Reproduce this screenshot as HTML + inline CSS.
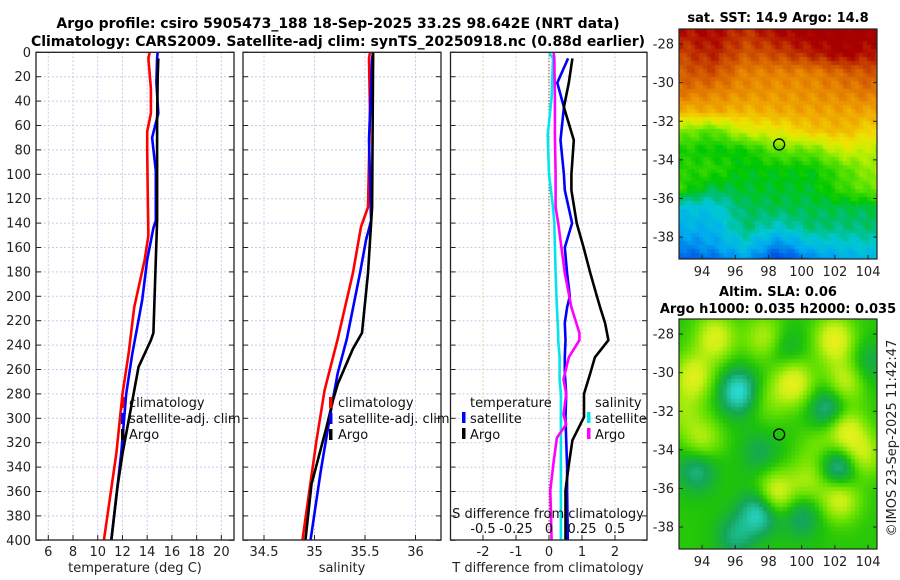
<!DOCTYPE html>
<html><head><meta charset="utf-8">
<style>
html,body{margin:0;padding:0;background:#fff;}
#wrap{position:relative;width:900px;height:580px;overflow:hidden;font-family:"DejaVu Sans","Liberation Sans",sans-serif;}
svg text{font-family:"DejaVu Sans","Liberation Sans",sans-serif;}
canvas{position:absolute;}
</style></head>
<body>
<div id="wrap">
<svg id="main" width="900" height="580" style="position:absolute;left:0;top:0"></svg>
<canvas id="sst" width="198" height="230" style="left:679px;top:29px"></canvas>
<canvas id="sla" width="198" height="230" style="left:679px;top:319px"></canvas>
<svg id="over" width="900" height="580" style="position:absolute;left:0;top:0"></svg>
</div>
<script>
// ---- profile data ----
const depthRed = [0,5,30,50,65,80,120,150,170,209,247,280,329,400];
const tempRed  = [14.2,14.1,14.3,14.3,14.0,14.0,14.05,14.1,13.8,12.95,12.5,12.0,11.5,10.5];
const depthBlue = [0,5,25,50,70,97,138,144,170,203,225,247,280,329,400];
const tempBlue  = [14.85,14.8,14.75,14.9,14.4,14.7,14.7,14.5,14.0,13.6,13.2,12.8,12.3,11.9,11.1];
const depthBlack = [5,20,56,138,230,236,258,280,302,329,356,400];
const tempBlack  = [14.9,14.85,14.8,14.8,14.5,14.3,13.3,12.9,12.5,12.0,11.6,11.1];

const salDepthRed = [0,5,50,127,143,181,235,277,318,400];
const salRed      = [35.55,35.54,35.55,35.53,35.46,35.38,35.23,35.1,35.02,34.88];
const salDepthBlue = [0,5,72,138,154,181,235,263,290,344,400];
const salBlue      = [35.58,35.57,35.54,35.56,35.51,35.45,35.32,35.23,35.17,35.06,34.96];
const salDepthBlack = [0,5,127,181,230,243,272,286,307,354,400];
const salBlack      = [35.58,35.58,35.57,35.53,35.47,35.38,35.23,35.18,35.12,34.97,34.91];

const dDepthT = [5,25,45,72,100,113,140,160,181,200,209,222,236,250,263,280,299,318,340,359,400];
const dTsat   = [0.58,0.25,0.45,0.35,0.45,0.48,0.7,0.48,0.55,0.63,0.55,0.48,0.5,0.48,0.48,0.52,0.5,0.52,0.55,0.55,0.57];
const dTargo  = [0.71,0.6,0.45,0.75,0.68,0.68,0.84,1.05,1.25,1.45,1.55,1.7,1.8,1.39,1.25,1.06,1.06,0.71,0.59,0.5,0.5];
const dDepthS = [0,5,37,68,100,127,140,181,209,230,236,250,268,280,297,305,316,336,359,380,400];
const dSsat   = [0.0,0.03,0.02,-0.01,0.0,0.03,0.04,0.05,0.06,0.07,0.07,0.08,0.08,0.09,0.09,0.09,0.09,0.09,0.09,0.09,0.09];
const dSargo  = [0.035,0.04,0.045,0.045,0.05,0.05,0.07,0.12,0.17,0.23,0.23,0.15,0.11,0.13,0.11,0.13,0.06,0.035,0.01,0.015,0.02];

const depthTicks = [0,20,40,60,80,100,120,140,160,180,200,220,240,260,280,300,320,340,360,380,400];
const tempTicks = [6,8,10,12,14,16,18,20];
const salTicks = [34.5,35,35.5,36];
const salTickLabels = ["34.5","35","35.5","36"];
const dTTicks = [-2,-1,0,1,2];
const dSTicks = [-0.5,-0.25,0,0.25,0.5];
const dSTickLabels = ["-0.5","-0.25","0","0.25","0.5"];

// ---- map data ----
const sstLats = [-27.3,-28.5,-29.5,-30.5,-31.5,-32.5,-33.5,-34.5,-35.5,-36.5,-37.5,-38.5,-39.2];
const sstLons = [92.6,94.6,96.6,98.6,100.6,102.6,104.6];
const sstGrid = [
 [0.93,0.95,0.9,0.95,0.97,0.97,0.97],
 [0.88,0.92,0.86,0.88,0.92,0.96,0.92],
 [0.85,0.87,0.8,0.8,0.8,0.84,0.86],
 [0.82,0.8,0.78,0.77,0.78,0.8,0.82],
 [0.72,0.74,0.72,0.74,0.75,0.75,0.75],
 [0.55,0.5,0.62,0.64,0.7,0.72,0.66],
 [0.45,0.42,0.43,0.52,0.52,0.62,0.58],
 [0.45,0.47,0.41,0.42,0.42,0.5,0.58],
 [0.47,0.38,0.4,0.4,0.4,0.48,0.54],
 [0.28,0.28,0.37,0.38,0.38,0.38,0.38],
 [0.24,0.24,0.36,0.3,0.36,0.35,0.36],
 [0.16,0.2,0.28,0.16,0.26,0.28,0.3],
 [0.1,0.12,0.2,0.05,0.16,0.22,0.26]];
const slaLons = [93.5,94.8,97.8,99.5,102,102.6,102.6,103.6,94,98.4,102.3,100.4,96.2,101.7,102.3,97.5,93.7,100,96,97.5,99,104,92.8,101,98];
const slaLats = [-30.2,-28.2,-28.2,-30.5,-28.3,-30.5,-33,-34.3,-33.5,-36.3,-36.5,-35.6,-31,-31.9,-34.9,-37.2,-35,-37.4,-38.5,-34.2,-28.8,-29.5,-32,-33.8,-31.5];
const slaAmps = [0.4,0.4,0.3,0.45,0.45,0.35,0.45,0.35,0.3,0.45,0.4,0.25,-0.45,-0.38,-0.45,-0.45,-0.3,-0.25,-0.25,-0.18,-0.18,-0.18,0.2,0.15,0.15];
const mapLonTicks = [94,96,98,100,102,104];
const mapLatTicks = [-28,-30,-32,-34,-36,-38];
const argoLon = 98.642, argoLat = -33.2;

const NS="http://www.w3.org/2000/svg";
const svg=document.getElementById('main');
function mk(tag,attrs,parent,text){const e=document.createElementNS(NS,tag);for(const k in attrs)e.setAttribute(k,attrs[k]);if(text!==undefined)e.textContent=text;(parent||svg).appendChild(e);return e;}

const Y0=52.3, YS=1.22;
const yD = d => Y0 + d*YS;
const xT = t => 48.3 + (t-6)*12.36;
const xS = s => 314.5 + (s-35)*101;
const xDT = v => 549 + v*33;
const xDS = v => 549 + v*132;
const panels=[{x0:36,x1:234,name:'temperature-panel'},{x0:243,x1:441,name:'salinity-panel'},{x0:450.5,x1:647,name:'difference-panel'}];

panels.forEach((p,i)=>{
  const g=mk('g',{});
  
  
  depthTicks.forEach(d=>{mk('line',{x1:p.x0,x2:p.x1,y1:yD(d),y2:yD(d),stroke:'#c4cbee','stroke-width':1,'stroke-dasharray':'2,2'},g);});
  let xs=[];
  if(i==0) xs=tempTicks.map(xT);
  if(i==1) xs=salTicks.map(xS);
  if(i==2) xs=dTTicks.map(xDT);
  xs.forEach(x=>mk('line',{x1:x,x2:x,y1:Y0,y2:540,stroke:i==2?'#e8c8b0':'#c4cbee','stroke-width':1,'stroke-dasharray':'2,2'},g));
});
mk('line',{x1:xDT(0),x2:xDT(0),y1:Y0,y2:540,stroke:'#333','stroke-width':1,'stroke-dasharray':'1,2'});

function line(xs,ds,fx,color,name){
  const pts=xs.map((v,i)=>fx(v).toFixed(1)+','+yD(ds[i]).toFixed(1)).join(' ');
  const e=mk('polyline',{points:pts,fill:'none',stroke:color,'stroke-width':2.6,'stroke-linejoin':'round'});
  
  
}
line(tempRed,depthRed,xT,'#ff0000','temp-climatology-line');
line(tempBlue,depthBlue,xT,'#0000ff','temp-satellite-line');
line(tempBlack,depthBlack,xT,'#000000','temp-argo-line');
line(salRed,salDepthRed,xS,'#ff0000','sal-climatology-line');
line(salBlue,salDepthBlue,xS,'#0000ff','sal-satellite-line');
line(salBlack,salDepthBlack,xS,'#000000','sal-argo-line');
line(dSsat,dDepthS,xDS,'#00e5ee','s-diff-satellite-line');
line(dTsat,dDepthT,xDT,'#0000ff','t-diff-satellite-line');
line(dSargo,dDepthS,xDS,'#ff00ff','s-diff-argo-line');
line(dTargo,dDepthT,xDT,'#000000','t-diff-argo-line');

panels.forEach((p,i)=>{
  const r=mk('rect',{x:p.x0,y:Y0,width:p.x1-p.x0,height:540-Y0,fill:'none',stroke:'#222','stroke-width':1.3});
  
  
  depthTicks.forEach(d=>{
    mk('line',{x1:p.x0,x2:p.x0+5,y1:yD(d),y2:yD(d),stroke:'#222'});
    mk('line',{x1:p.x1,x2:p.x1-5,y1:yD(d),y2:yD(d),stroke:'#222'});
  });
});
depthTicks.forEach(d=>{
  const t=mk('text',{x:31,y:yD(d)+4.5,'text-anchor':'end','font-size':13,fill:'#222'},svg,String(d));
  
  
});
tempTicks.forEach(v=>{
  mk('line',{x1:xT(v),x2:xT(v),y1:540,y2:535,stroke:'#222'});
  const t=mk('text',{x:xT(v),y:556,'text-anchor':'middle','font-size':13,fill:'#222'},svg,String(v));
  
  
});
salTicks.forEach((v,i)=>{
  mk('line',{x1:xS(v),x2:xS(v),y1:540,y2:535,stroke:'#222'});
  const t=mk('text',{x:xS(v),y:556,'text-anchor':'middle','font-size':13,fill:'#222'},svg,salTickLabels[i]);
  
  
});
dTTicks.forEach(v=>{
  mk('line',{x1:xDT(v),x2:xDT(v),y1:540,y2:535,stroke:'#222'});
  const t=mk('text',{x:xDT(v),y:556,'text-anchor':'middle','font-size':13,fill:'#222'},svg,String(v));
  
  
});
dSTicks.forEach((v,i)=>{
  const t=mk('text',{x:xDS(v),y:533,'text-anchor':'middle','font-size':13,fill:'#111'},svg,dSTickLabels[i]);
  
  
});
</script>
<script>
(function(){
const svg=document.getElementById('main');
function T(x,y,s,opts,name){const e=document.createElementNS("http://www.w3.org/2000/svg",'text');e.setAttribute('x',x);e.setAttribute('y',y);for(const k in opts)e.setAttribute(k,opts[k]);e.textContent=s;svg.appendChild(e);return e;}
function R(x,y,w,h,c,name){const e=document.createElementNS("http://www.w3.org/2000/svg",'rect');e.setAttribute('x',x);e.setAttribute('y',y);e.setAttribute('width',w);e.setAttribute('height',h);e.setAttribute('fill',c);svg.appendChild(e);}
T(338,28,'Argo profile: csiro 5905473_188 18-Sep-2025 33.2S 98.642E (NRT data)',{'text-anchor':'middle','font-size':14,'font-weight':'bold'},'title-line-1');
T(338,46,'Climatology: CARS2009. Satellite-adj clim: synTS_20250918.nc (0.88d earlier)',{'text-anchor':'middle','font-size':14,'font-weight':'bold'},'title-line-2');
T(135,572,'temperature (deg C)',{'text-anchor':'middle','font-size':13,fill:'#222'},'temp-x-axis-title');
T(342,572,'salinity',{'text-anchor':'middle','font-size':13,fill:'#222'},'sal-x-axis-title');
T(548,572,'T difference from climatology',{'text-anchor':'middle','font-size':13,fill:'#222'},'t-diff-x-axis-title');
T(548,518,'S difference from climatology',{'text-anchor':'middle','font-size':13,fill:'#111'},'s-diff-axis-title');
[[121,'#ff0000','climatology',0],[121,'#0000ff','satellite-adj. clim',16],[121,'#000','Argo',32]].forEach(a=>{R(a[0],397+a[3],3.5,11,a[1],'legend-marker');T(129,407+a[3],a[2],{'font-size':13,fill:'#111'},'legend-entry');});
[[329,'#ff0000','climatology',0],[329,'#0000ff','satellite-adj. clim',16],[329,'#000','Argo',32]].forEach(a=>{R(a[0],397+a[3],3.5,11,a[1],'legend-marker');T(338,407+a[3],a[2],{'font-size':13,fill:'#111'},'legend-entry');});
T(470,407,'temperature',{'font-size':13,fill:'#111'},'legend-title-temperature');
R(462,412,3.5,11,'#0000ff','legend-marker');T(470,423,'satellite',{'font-size':13,fill:'#111'},'legend-entry');
R(462,428,3.5,11,'#000','legend-marker');T(470,439,'Argo',{'font-size':13,fill:'#111'},'legend-entry');
T(595,407,'salinity',{'font-size':13,fill:'#111'},'legend-title-salinity');
R(587,412,3.5,11,'#00e5ee','legend-marker');T(595,423,'satellite',{'font-size':13,fill:'#111'},'legend-entry');
R(587,428,3.5,11,'#ff00ff','legend-marker');T(595,439,'Argo',{'font-size':13,fill:'#111'},'legend-entry');
T(778,22,'sat. SST: 14.9 Argo: 14.8',{'text-anchor':'middle','font-size':13,'font-weight':'bold'},'sst-map-title');
T(778,296,'Altim. SLA: 0.06',{'text-anchor':'middle','font-size':13,'font-weight':'bold'},'sla-map-title-1');
T(778,313,'Argo h1000: 0.035 h2000: 0.035',{'text-anchor':'middle','font-size':13,'font-weight':'bold'},'sla-map-title-2');
T(0,0,'©IMOS 23-Sep-2025 11:42:47',{'text-anchor':'middle','font-size':13,fill:'#222',transform:'translate(896,438) rotate(-90)'},'timestamp');
})();
</script>
<script>
const sstStops=[[0,[0,40,200]],[0.12,[0,100,230]],[0.22,[0,170,240]],[0.3,[0,200,210]],[0.36,[0,190,110]],[0.42,[0,200,0]],[0.52,[100,228,0]],[0.6,[200,240,0]],[0.66,[240,225,0]],[0.74,[240,170,0]],[0.8,[230,130,0]],[0.88,[200,70,0]],[0.95,[170,0,0]],[1,[160,0,0]]];
function cmap(stops,v){v=Math.max(0,Math.min(1,v));for(let k=0;k<stops.length-1;k++){const a=stops[k],b=stops[k+1];if(v<=b[0]){const f=(v-a[0])/(b[0]-a[0]);return a[1].map((x,m)=>Math.round(x+(b[1][m]-x)*f));}}return stops[stops.length-1][1];}
const lonMin=92.61, lonMax=104.54, latTop=-27.22, latBot=-39.14;
const mapPx=[16.6,19.3];
function drawMap(id,fn){
  const c=document.getElementById(id), ctx=c.getContext('2d');
  const cs=4;
  for(let py=0;py<230;py+=cs){for(let px=0;px<198;px+=cs){
    const lon=lonMin+(px+cs/2)/198*(lonMax-lonMin), lat=latTop-(py+cs/2)/230*(latTop-latBot);
    const col=fn(lon,lat);ctx.fillStyle='rgb('+col.join(',')+')';ctx.fillRect(px,py,cs,cs);}}
}
function interpSST(lon,lat){
  let i=0;while(i<sstLats.length-2&&lat<sstLats[i+1])i++;
  let fy=(sstLats[i]-lat)/(sstLats[i]-sstLats[i+1]);fy=Math.max(0,Math.min(1,fy));
  let j=Math.max(0,Math.min(sstLons.length-2,Math.floor((lon-sstLons[0])/2)));
  let fx=(lon-sstLons[j])/2;fx=Math.max(0,Math.min(1,fx));
  const a=sstGrid[i][j]*(1-fx)+sstGrid[i][j+1]*fx, b=sstGrid[i+1][j]*(1-fx)+sstGrid[i+1][j+1]*fx;
  return a*(1-fy)+b*fy + 0.025*Math.sin(lon*5.3+lat*3.1)*Math.cos(lat*4.7);
}
drawMap('sst',(lon,lat)=>cmap(sstStops,interpSST(lon,lat)));
const slaStops=[[0,[40,215,205]],[0.22,[20,165,90]],[0.4,[30,195,10]],[0.55,[100,225,0]],[0.75,[200,240,20]],[0.9,[240,240,30]],[1,[250,220,20]]];
drawMap('sla',(lon,lat)=>{let v=0.42;for(let k=0;k<slaLons.length;k++){const d2=(lon-slaLons[k])**2+(lat-slaLats[k])**2;v+=slaAmps[k]*Math.exp(-d2/1.4);}return cmap(slaStops,v);});

(function(){
const o=document.getElementById('over');const NS="http://www.w3.org/2000/svg";
function mk(t,a,s){const e=document.createElementNS(NS,t);for(const k in a)e.setAttribute(k,a[k]);if(s!==undefined)e.textContent=s;o.appendChild(e);return e;}
[[29,'sst'],[319,'sla']].forEach(m=>{
  const top=m[0];
  const xL=lon=>679+(lon-lonMin)*mapPx[0];
  const yL=lat=>top+(latTop-lat)*mapPx[1];
  const fr=mk('rect',{x:679,y:top,width:198,height:230,fill:'none',stroke:'#222','stroke-width':1.2});
  
  
  mapLonTicks.forEach(v=>{mk('line',{x1:xL(v),x2:xL(v),y1:top+230,y2:top+226,stroke:'#222'});
    const t=mk('text',{x:xL(v),y:top+247,'text-anchor':'middle','font-size':13,fill:'#222'},String(v));
    
    });
  mapLatTicks.forEach(v=>{mk('line',{x1:679,x2:683,y1:yL(v),y2:yL(v),stroke:'#222'});mk('line',{x1:877,x2:873,y1:yL(v),y2:yL(v),stroke:'#222'});
    const t=mk('text',{x:674,y:yL(v)+4.5,'text-anchor':'end','font-size':13,fill:'#222'},String(v));
    
    });
  const c=mk('circle',{cx:xL(argoLon),cy:yL(argoLat),r:5.5,fill:'none',stroke:'#000','stroke-width':1.3});
  
  
});
})();
</script>
</body></html>
